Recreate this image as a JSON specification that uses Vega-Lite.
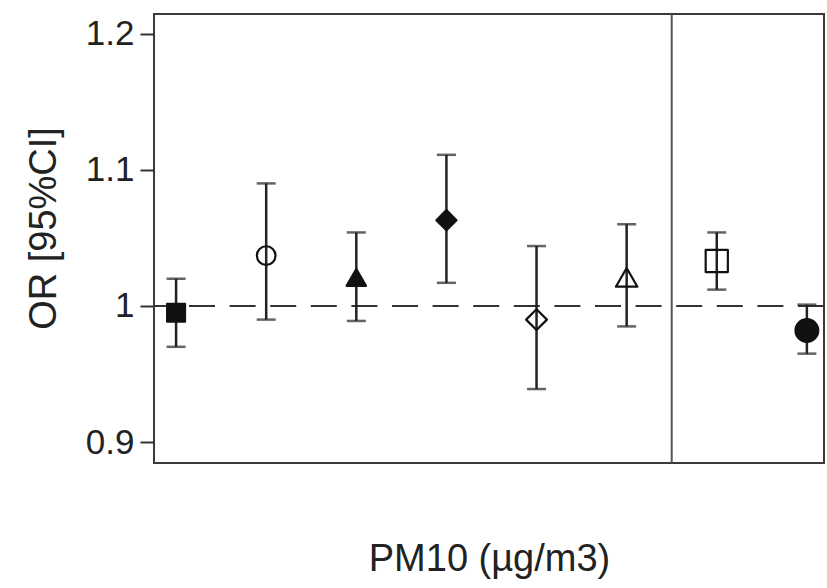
{
  "$schema": "https://vega.github.io/schema/vega-lite/v6.json",
  "width": 670,
  "height": 449,
  "autosize": {"type": "none"},
  "padding": {"left": 154, "top": 14, "right": 3, "bottom": 125},
  "background": "white",
  "config": {
    "view": {"stroke": "#3a3a3a", "strokeWidth": 2},
    "font": "Liberation Sans",
    "axis": {"labelColor": "#222", "titleColor": "#222", "titleFontWeight": "normal", "grid": false}
  },
  "datasets": {
    "estimates": [
      {"study": "S1", "pos": 1, "or": 0.995, "lo": 0.970, "hi": 1.020, "fill": "solid"},
      {"study": "S2", "pos": 2, "or": 1.037, "lo": 0.990, "hi": 1.090, "fill": "hollow"},
      {"study": "S3", "pos": 3, "or": 1.021, "lo": 0.989, "hi": 1.054, "fill": "solid"},
      {"study": "S4", "pos": 4, "or": 1.063, "lo": 1.017, "hi": 1.111, "fill": "solid"},
      {"study": "S5", "pos": 5, "or": 0.990, "lo": 0.939, "hi": 1.044, "fill": "hollow"},
      {"study": "S6", "pos": 6, "or": 1.021, "lo": 0.985, "hi": 1.060, "fill": "hollow"},
      {"study": "S7", "pos": 7, "or": 1.033, "lo": 1.012, "hi": 1.054, "fill": "hollow"},
      {"study": "S8", "pos": 8, "or": 0.982, "lo": 0.965, "hi": 1.001, "fill": "solid"}
    ],
    "reference": [{"ref": 1}],
    "separator": [{"sep": 6.5}]
  },
  "layer": [
    {
      "data": {"name": "reference"},
      "mark": {"type": "rule", "color": "#333", "strokeWidth": 2, "strokeDash": [26, 14.6]},
      "encoding": {
        "y": {
          "field": "ref", "type": "quantitative",
          "scale": {"domain": [0.8847, 1.2144], "nice": false, "zero": false},
          "axis": {
            "values": [0.9, 1, 1.1, 1.2],
            "format": "~g",
            "domain": false,
            "tickSize": 14,
            "tickWidth": 2,
            "tickColor": "#333",
            "labelPadding": 6,
            "labelFontSize": 35,
            "title": "OR [95%CI]",
            "titleFontSize": 38,
            "titlePadding": 22,
            "titleY": 214
          }
        }
      }
    },
    {
      "data": {"name": "separator"},
      "mark": {"type": "rule", "color": "#555", "strokeWidth": 2},
      "encoding": {
        "x": {
          "field": "sep", "type": "quantitative",
          "scale": {"domain": [0.755, 8.19], "nice": false, "zero": false},
          "axis": {
            "title": "PM10 (µg/m3)",
            "labels": false,
            "ticks": false,
            "domain": false,
            "titleFontSize": 38,
            "titlePadding": 77
          }
        }
      }
    },
    {
      "data": {"name": "estimates"},
      "mark": {"type": "rule", "color": "#222", "strokeWidth": 2.5},
      "encoding": {
        "x": {"field": "pos", "type": "quantitative"},
        "y": {"field": "lo", "type": "quantitative"},
        "y2": {"field": "hi"}
      }
    },
    {
      "data": {"name": "estimates"},
      "mark": {"type": "tick", "orient": "horizontal", "color": "#222", "size": 19, "thickness": 2.5},
      "encoding": {
        "x": {"field": "pos", "type": "quantitative"},
        "y": {"field": "lo", "type": "quantitative"}
      }
    },
    {
      "data": {"name": "estimates"},
      "mark": {"type": "tick", "orient": "horizontal", "color": "#222", "size": 19, "thickness": 2.5},
      "encoding": {
        "x": {"field": "pos", "type": "quantitative"},
        "y": {"field": "hi", "type": "quantitative"}
      }
    },
    {
      "data": {"name": "estimates"},
      "mark": {"type": "point", "stroke": "#111", "strokeWidth": 2.2, "opacity": 1, "strokeJoin": "round"},
      "encoding": {
        "x": {"field": "pos", "type": "quantitative"},
        "y": {"field": "or", "type": "quantitative"},
        "shape": {
          "field": "study", "type": "nominal", "legend": null,
          "scale": {
            "domain": ["S1", "S2", "S3", "S4", "S5", "S6", "S7", "S8"],
            "range": ["square", "circle", "triangle-up", "diamond", "diamond", "triangle-up", "square", "circle"]
          }
        },
        "size": {
          "field": "study", "type": "nominal", "legend": null,
          "scale": {
            "domain": ["S1", "S2", "S3", "S4", "S5", "S6", "S7", "S8"],
            "range": [320, 520, 420, 720, 650, 420, 380, 330]
          }
        },
        "fill": {
          "field": "fill", "type": "nominal", "legend": null,
          "scale": {"domain": ["solid", "hollow"], "range": ["#111", "transparent"]}
        }
      }
    }
  ]
}
